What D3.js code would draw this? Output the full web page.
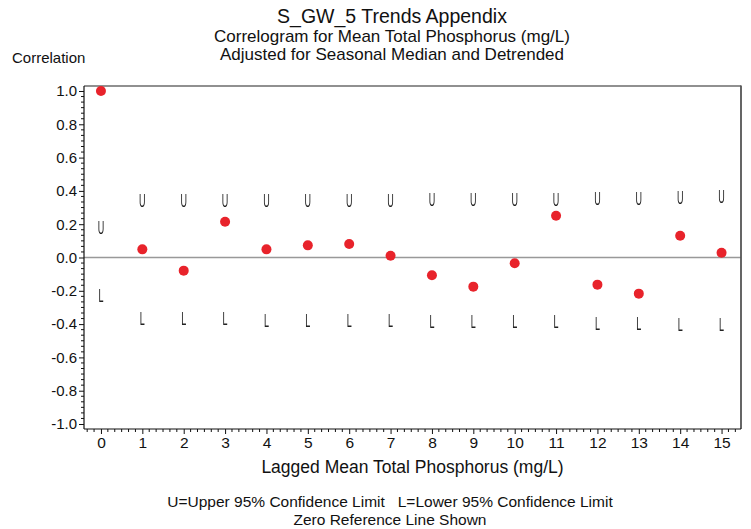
<!DOCTYPE html>
<html>
<head>
<meta charset="utf-8">
<script src="https://cdn.jsdelivr.net/npm/d3@7"></script>
<style>
  html, body { margin: 0; padding: 0; background: #fff; }
  svg { display: block; font-family: Arial, "Liberation Sans", sans-serif; }
</style>
</head>
<body>
<svg id="chart" width="751" height="529"></svg>
<script>
// ---- data ----
const lags = [0, 1, 2, 3, 4, 5, 6, 7, 8, 9, 10, 11, 12, 13, 14, 15];
const correlation = [1.0, 0.049, -0.079, 0.215, 0.049, 0.073, 0.081, 0.011, -0.107, -0.175, -0.035, 0.251, -0.163, -0.217, 0.131, 0.029];
const upper95 = [0.181, 0.339, 0.339, 0.339, 0.343, 0.343, 0.343, 0.343, 0.345, 0.345, 0.35, 0.35, 0.357, 0.357, 0.362, 0.365];
const lower95 = [-0.231, -0.369, -0.369, -0.369, -0.379, -0.379, -0.379, -0.379, -0.385, -0.383, -0.385, -0.385, -0.395, -0.395, -0.4, -0.4];
const yTickValues = [-1.0, -0.8, -0.6, -0.4, -0.2, 0.0, 0.2, 0.4, 0.6, 0.8, 1.0];
const titles = ["S_GW_5 Trends Appendix", "Correlogram for Mean Total Phosphorus (mg/L)", "Adjusted for Seasonal Median and Detrended"];
const yLabel = "Correlation";
const xLabel = "Lagged Mean Total Phosphorus (mg/L)";
const footnotes = ["U=Upper 95% Confidence Limit   L=Lower 95% Confidence Limit", "Zero Reference Line Shown"];

// ---- layout ----
const svg = d3.select("#chart");
const pLeft = 84, pRight = 741, pTop = 86, pBottom = 429;

const x = d3.scaleLinear().domain([-0.41, 15.47]).range([pLeft, pRight]);
const y = d3.scaleLinear().domain([-1.03, 1.03]).range([pBottom, pTop]);

// titles
const tsizes = [19.5, 17, 17];
const tys = [23, 42, 60];
titles.forEach((t, i) => {
  svg.append("text").attr("x", 392).attr("y", tys[i])
    .attr("text-anchor", "middle").attr("font-size", tsizes[i]).attr("fill", "#111").text(t);
});
svg.append("text").attr("x", 12).attr("y", 63).attr("font-size", 15).attr("fill", "#111").text(yLabel);

// zero reference line
svg.append("line").attr("x1", pLeft).attr("x2", pRight).attr("y1", y(0)).attr("y2", y(0))
  .attr("stroke", "#999").attr("stroke-width", 1.6);

// frame (top and right)
svg.append("line").attr("x1", pLeft).attr("x2", pRight).attr("y1", pTop).attr("y2", pTop)
  .attr("stroke", "#222").attr("stroke-width", 1.2);
svg.append("line").attr("x1", pRight).attr("x2", pRight).attr("y1", pTop - 0.5).attr("y2", pBottom)
  .attr("stroke", "#555").attr("stroke-width", 1.8);

// y axis
const yAxis = d3.axisLeft(y).tickValues(yTickValues).tickFormat(d3.format(".1f")).tickSize(5).tickPadding(2);
const gy = svg.append("g").attr("transform", `translate(${pLeft},0)`).call(yAxis);
gy.select(".domain").attr("d", `M0,${pTop}V${pBottom}`).attr("stroke", "#111").attr("stroke-width", 1.2);
gy.selectAll(".tick text").attr("font-size", 15).attr("fill", "#111").attr("font-family", "Arial, 'Liberation Sans', sans-serif")
  .text(d => d3.format(".1f")(d).replace("−", "-"));
gy.selectAll(".tick line").attr("stroke", "#111");
// y minor ticks
const yMinor = d3.range(-31, 32).map(i => i / 30).filter(v => v >= -1.03 && v <= 1.03 && Math.abs(v * 5 - Math.round(v * 5)) > 1e-6);
svg.append("g").selectAll("line").data(yMinor).join("line")
  .attr("x1", pLeft - 3).attr("x2", pLeft).attr("y1", d => y(d)).attr("y2", d => y(d))
  .attr("stroke", "#111").attr("stroke-width", 1);

// x axis
const xAxis = d3.axisBottom(x).tickValues(lags).tickFormat(d3.format("d")).tickSize(5).tickPadding(3);
const gx = svg.append("g").attr("transform", `translate(0,${pBottom})`).call(xAxis);
gx.select(".domain").attr("d", `M${pLeft},0H${pRight}`).attr("stroke", "#111").attr("stroke-width", 1.2);
gx.selectAll(".tick text").attr("font-size", 15.5).attr("fill", "#111").attr("font-family", "Arial, 'Liberation Sans', sans-serif");
gx.selectAll(".tick line").attr("stroke", "#111");
// x minor ticks
const xMinor = d3.range(-2, 15 * 6 + 3).map(i => i / 6).filter(v => v >= -0.41 && v <= 15.47 && Math.abs(v - Math.round(v)) > 1e-6);
svg.append("g").selectAll("line").data(xMinor).join("line")
  .attr("x1", d => x(d)).attr("x2", d => x(d)).attr("y1", pBottom).attr("y2", pBottom + 3)
  .attr("stroke", "#111").attr("stroke-width", 1);

// axis title & footnotes
svg.append("text").attr("x", (pLeft + pRight) / 2).attr("y", 473).attr("text-anchor", "middle")
  .attr("font-size", 17.5).attr("fill", "#111").text(xLabel);
footnotes.forEach((t, i) => {
  svg.append("text").attr("x", 390).attr("y", 507 + i * 18).attr("text-anchor", "middle")
    .attr("font-size", 15.5).attr("fill", "#111").attr("xml:space", "preserve").style("white-space", "pre").text(t);
});

// U / L glyph markers
const gfs = 18, cap = 0.716 * gfs;
function glyphs(vals, ch) {
  svg.append("g").style("filter", "grayscale(1)").selectAll("text").data(lags).join("text")
    .attr("transform", (d, i) => `translate(${x(d)},${y(vals[i]) + cap / 2}) scale(0.5,1)`)
    .attr("text-anchor", "middle").attr("font-size", gfs).attr("fill", "#222")
    .attr("font-family", "Arial, 'Liberation Sans', sans-serif")
    .text(ch);
}
glyphs(upper95, "U");
glyphs(lower95, "L");

// correlation points
svg.append("g").selectAll("circle").data(lags).join("circle")
  .attr("cx", d => x(d)).attr("cy", (d, i) => y(correlation[i])).attr("r", 5)
  .attr("fill", "#e8232b");
</script>
</body>
</html>
